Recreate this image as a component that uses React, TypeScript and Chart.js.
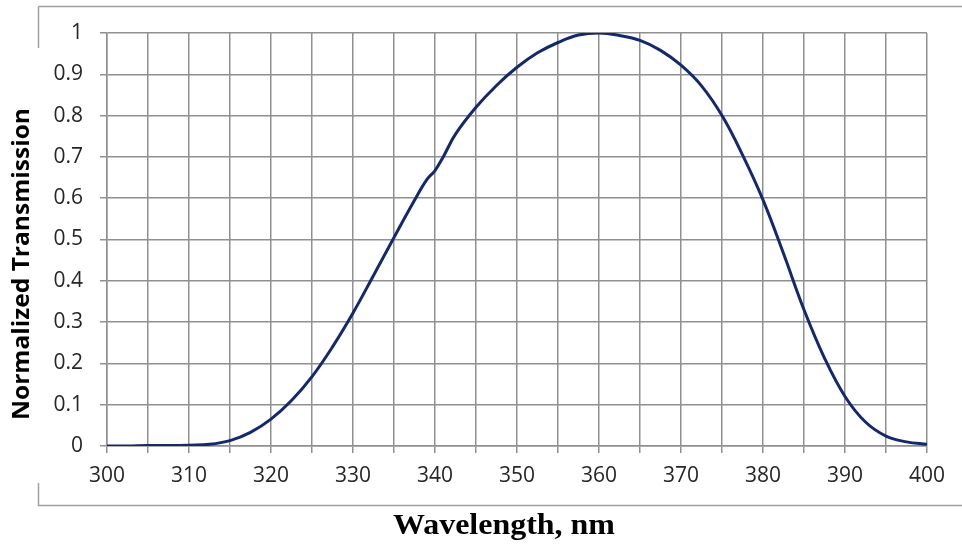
import React, { useEffect, useRef } from "react";
import { Chart, registerables } from "chart.js";

Chart.register(...registerables);

const wavelengths = [300, 302.5, 305, 307.5, 310, 312.5, 315, 317.5, 320, 322.5, 325, 327.5, 330, 332.5, 335, 337.5, 339, 340, 341, 342.5, 345, 347.5, 350, 352.5, 355, 357.5, 360, 362.5, 365, 367.5, 370, 372.5, 375, 377.5, 380, 382.5, 385, 387.5, 390, 392.5, 395, 397.5, 400];
const transmission = [0, 0, 0.001, 0.001, 0.002, 0.004, 0.013, 0.033, 0.065, 0.11, 0.168, 0.24, 0.322, 0.413, 0.505, 0.595, 0.645, 0.667, 0.7, 0.755, 0.82, 0.873, 0.917, 0.952, 0.977, 0.995, 1.0, 0.994, 0.982, 0.958, 0.922, 0.872, 0.8, 0.705, 0.596, 0.466, 0.33, 0.213, 0.12, 0.058, 0.024, 0.01, 0.004];

const xTitle = "Wavelength, nm";
const yTitle = "Normalized Transmission";

const GRID = "#909090";
const TICK_FONT = { family: "'Open Sans'", size: 21 };

const decorPlugin = {
  id: "decor",
  beforeDraw(chart: any) {
    const ctx = chart.ctx;
    ctx.save();
    ctx.fillStyle = "#ffffff";
    ctx.fillRect(0, 0, chart.width, chart.height);
    ctx.strokeStyle = "#a0a0a0";
    ctx.lineWidth = 1.5;
    ctx.beginPath();
    ctx.moveTo(38.5, 6.5);
    ctx.lineTo(chart.width, 6.5);
    ctx.moveTo(38.5, 6.5);
    ctx.lineTo(38.5, 48);
    ctx.moveTo(38.5, 483);
    ctx.lineTo(38.5, 505.5);
    ctx.lineTo(chart.width, 505.5);
    ctx.stroke();
    ctx.restore();
  },
  afterDraw(chart: any) {
    const ctx = chart.ctx;
    ctx.save();
    ctx.fillStyle = "#000000";
    ctx.font = "bold 29px 'Liberation Serif'";
    ctx.textAlign = "center";
    ctx.textBaseline = "middle";
    const wX = ctx.measureText(xTitle).width;
    ctx.translate(504, 527);
    ctx.scale(222 / wX, 1);
    ctx.fillText(xTitle, 0, 0);
    ctx.restore();

    ctx.save();
    ctx.fillStyle = "#000000";
    ctx.font = "bold 23px 'Open Sans'";
    ctx.textAlign = "center";
    ctx.textBaseline = "middle";
    const wY = ctx.measureText(yTitle).width;
    ctx.translate(22, 264);
    ctx.rotate(-Math.PI / 2);
    ctx.scale(312 / wY, 1);
    ctx.fillText(yTitle, 0, 0);
    ctx.restore();
  },
};

export default function App() {
  const ref = useRef<HTMLCanvasElement>(null);
  useEffect(() => {
    if (!ref.current) return;
    const chart = new Chart(ref.current, {
      type: "line",
      data: {
        datasets: [
          {
            data: wavelengths.map((w, i) => ({ x: w, y: transmission[i] })),
            borderColor: "#13296b",
            borderWidth: 3,
            pointRadius: 0,
            tension: 0.4,
            fill: false,
          },
        ],
      },
      options: {
        animation: false,
        responsive: false,
        devicePixelRatio: 1,
        layout: { padding: { top: 33, right: 35, left: 0, bottom: 0 } },
        plugins: { legend: { display: false }, tooltip: { enabled: false } },
        scales: {
          x: {
            type: "linear",
            min: 300,
            max: 400,
            afterFit: (s: any) => {
              s.height = 98;
            },
            ticks: {
              stepSize: 5,
              autoSkip: false,
              maxRotation: 0,
              padding: 10,
              color: "#262626",
              font: TICK_FONT,
              callback: (v: any) => (Math.round(v) % 10 === 0 ? String(Math.round(v)) : ""),
            },
            grid: { color: GRID, lineWidth: 1.5, tickLength: 7, drawTicks: true },
            border: { color: GRID, width: 1.5 },
          },
          y: {
            min: 0,
            max: 1,
            afterFit: (s: any) => {
              s.width = 107;
            },
            ticks: {
              stepSize: 0.1,
              padding: 17,
              color: "#262626",
              font: TICK_FONT,
              callback: (v: any) => String(Math.round(v * 10) / 10),
            },
            grid: { color: GRID, lineWidth: 1.5, tickLength: 7 },
            border: { color: GRID, width: 1.5 },
          },
        },
      },
      plugins: [decorPlugin],
    } as any);
    return () => chart.destroy();
  }, []);
  return (
    <div style={{ position: "fixed", left: 0, top: 0, width: 962, height: 544, background: "#fff" }}>
      <canvas ref={ref} width={962} height={544} style={{ width: 962, height: 544 }} />
    </div>
  );
}
